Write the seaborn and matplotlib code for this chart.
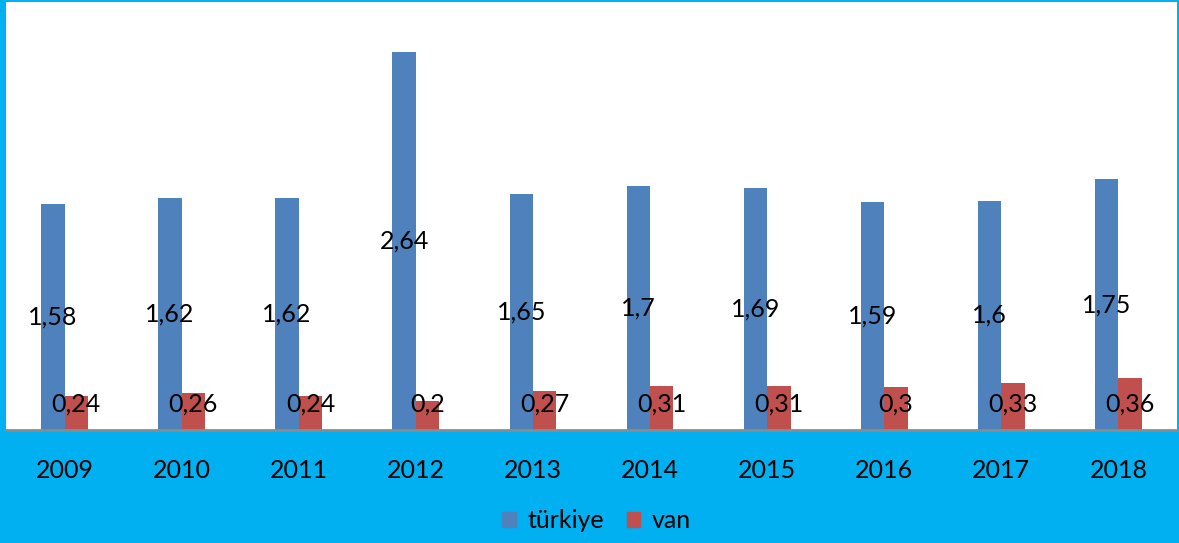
import pandas as pd
import matplotlib
matplotlib.use('Agg')
import matplotlib.pyplot as plt
import seaborn as sns

# Data
years = ['2009', '2010', '2011', '2012', '2013', '2014', '2015', '2016', '2017', '2018']
turkiye = [1.58, 1.62, 1.62, 2.64, 1.65, 1.7, 1.69, 1.59, 1.6, 1.75]
van = [0.24, 0.26, 0.24, 0.2, 0.27, 0.31, 0.31, 0.3, 0.33, 0.36]
series_names = ['türkiye', 'van']

df = pd.DataFrame({
    'year': years * 2,
    'value': turkiye + van,
    'series': [series_names[0]] * len(years) + [series_names[1]] * len(years),
})

bg = '#00B0F0'
colors = ['#4F81BD', '#C0504D']

sns.set_theme(style='white')
plt.rcParams['font.family'] = ['Lato', 'DejaVu Sans']
plt.rcParams['text.color'] = 'black'

fig = plt.figure(figsize=(11.79, 5.43), dpi=100, facecolor=bg)
ax = fig.add_axes([6 / 1179, 113 / 543, 1171 / 1179, 428.5 / 543])
ax.set_facecolor('white')

sns.barplot(data=df, x='year', y='value', hue='series', palette=colors,
            width=0.4, gap=0, ax=ax, legend=False, saturation=1, linewidth=0)

ax.set_xlim(-0.5, len(years) - 0.5)
ax.set_ylim(0, 2.99)
ax.set_yticks([])
ax.set_xlabel('')
ax.set_ylabel('')
for s in ['top', 'left', 'right']:
    ax.spines[s].set_visible(False)
ax.spines['bottom'].set_color('#8C8C8C')
ax.spines['bottom'].set_linewidth(2)
ax.tick_params(axis='x', length=0, pad=21, labelsize=18, labelcolor='black')

# data labels, centered on bars (kept inside the plot near the baseline)
for cont, vals in zip(ax.containers, [turkiye, van]):
    for bar, v in zip(cont, vals):
        x = bar.get_x() + bar.get_width() / 2
        y = max(v / 2, 0.18)
        ax.text(x, y, f'{v:g}'.replace('.', ','), ha='center', va='center',
                fontsize=18, color='black')

handles = [plt.Rectangle((0, 0), 1, 1, color=c) for c in colors]
fig.legend(handles, series_names, loc='center', bbox_to_anchor=(0.506, 1 - 521 / 543),
           ncol=2, frameon=False, fontsize=18, handlelength=0.55, handleheight=0.55,
           handletextpad=0.45, columnspacing=0.9, labelcolor='black')

fig.savefig('out.png', dpi=100, facecolor=bg)
